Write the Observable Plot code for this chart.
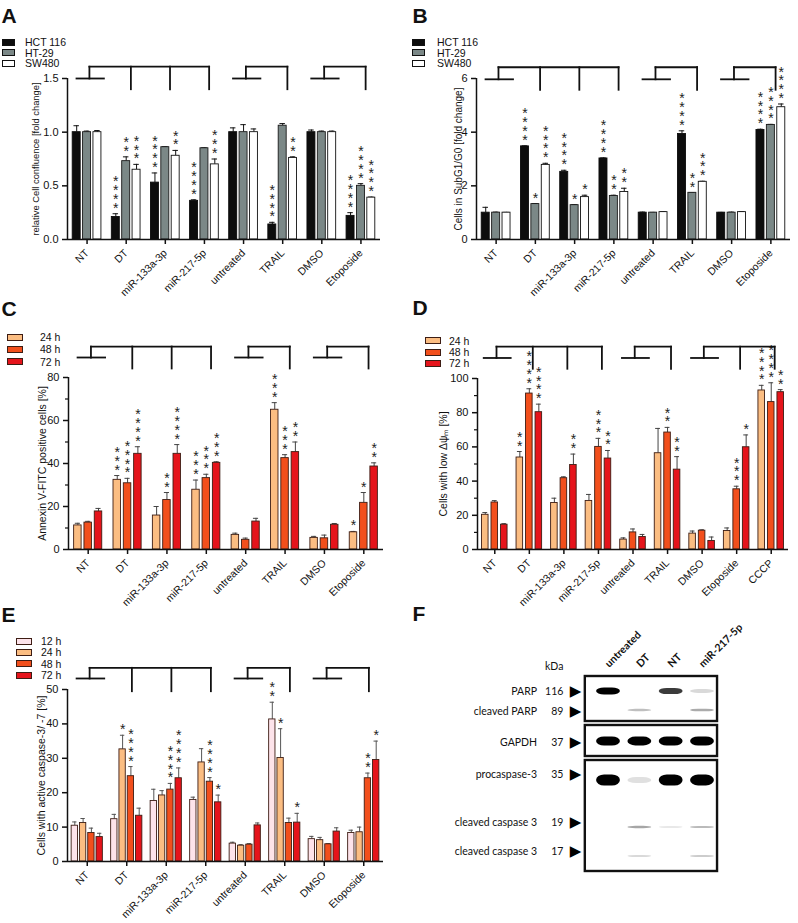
<!DOCTYPE html>
<html>
<head>
<meta charset="utf-8">
<script src="https://cdn.jsdelivr.net/npm/d3@7"></script>
<script src="https://cdn.jsdelivr.net/npm/@observablehq/plot@0.6"></script>
<style>
  html,body{margin:0;padding:0;background:#fff;}
  #fig{position:relative;width:798px;height:923px;overflow:hidden;font-family:"Liberation Sans",Arial,sans-serif;color:#111;}
  #fig svg{position:absolute;overflow:visible;}
  .letter{position:absolute;font-weight:700;font-size:21px;line-height:21px;}
  .lg{position:absolute;left:0;font-size:10.5px;line-height:12px;height:12px;white-space:nowrap;}
  .lg .sw{position:absolute;top:2.5px;height:7px;box-sizing:border-box;border:1px solid #222;}
  .lg .tx{position:absolute;top:0;}
</style>
</head>
<body>
<div id="fig"></div>
<script>
// ---------------- DATA ----------------
const groups8 = ["NT","DT","miR-133a-3p","miR-217-5p","untreated","TRAIL","DMSO","Etoposide"];
const groups9 = ["NT","DT","miR-133a-3p","miR-217-5p","untreated","TRAIL","DMSO","Etoposide","CCCP"];

// Panel A: relative cell confluence
const aHCT116      = [1.00,0.21,0.53,0.36,1.00,0.14,1.00,0.22];
const aHCT116Err   = [0.06,0.03,0.09,0.01,0.04,0.02,0.02,0.03];
const aHCT116Stars = [0,4,4,4,0,4,0,4];
const aHT29        = [1.00,0.73,0.86,0.85,1.00,1.06,1.00,0.50];
const aHT29Err     = [0.01,0.04,0.005,0.005,0.07,0.02,0.01,0.02];
const aHT29Stars   = [0,2,0,0,0,0,0,4];
const aSW480       = [1.00,0.65,0.78,0.70,1.00,0.76,1.00,0.39];
const aSW480Err    = [0.015,0.05,0.05,0.05,0.03,0.01,0.01,0.005];
const aSW480Stars  = [0,3,2,3,0,2,0,4];

// Panel B: cells in SubG1/G0
const bHCT116      = [1.00,3.47,2.52,3.02,1.00,3.93,1.00,4.08];
const bHCT116Err   = [0.20,0.02,0.06,0.02,0.02,0.12,0.01,0.03];
const bHCT116Stars = [0,4,4,4,0,4,0,4];
const bHT29        = [1.00,1.32,1.28,1.62,1.00,1.74,1.00,4.27];
const bHT29Err     = [0.02,0.02,0.02,0.03,0.01,0.01,0.02,0.02];
const bHT29Stars   = [0,1,1,2,0,2,0,4];
const bSW480       = [1.00,2.78,1.58,1.77,1.02,2.15,1.02,4.93];
const bSW480Err    = [0.01,0.06,0.07,0.14,0.02,0.02,0.02,0.12];
const bSW480Stars  = [0,4,1,2,0,3,0,4];

// Panel C: Annexin V-FITC positive cells [%]
const c24 = [11.2,32.4,15.8,27.8,6.8,65.0,5.4,8.0];
const c24Err = [1.0,2.0,4.2,4.5,0.8,3.3,0.7,0.4];
const c24Stars = [0,3,0,3,0,3,0,1];
const c48 = [12.5,30.8,23.0,33.2,4.5,42.5,5.2,21.7];
const c48Err = [0.6,2.3,3.5,1.8,0.8,1.6,1.5,4.8];
const c48Stars = [0,4,2,3,0,3,0,1];
const c72 = [17.7,44.5,44.5,40.3,13.0,45.3,11.5,38.6];
const c72Err = [1.4,3.3,4.3,0.5,1.5,4.7,0.6,1.7];
const c72Stars = [0,4,4,3,0,2,0,2];

// Panel D: cells with low membrane potential [%]
const d24 = [20.3,53.8,27.2,28.4,5.8,56.3,9.3,10.8,93.0];
const d24Err = [1.3,3.5,2.8,3.8,1.0,14.5,1.5,1.8,3.0];
const d24Stars = [0,2,0,0,0,0,0,0,4];
const d48 = [27.5,91.2,41.7,60.0,10.0,68.4,11.0,35.2,86.2];
const d48Err = [1.1,2.8,0.8,5.0,2.0,3.0,0.5,1.8,11.3];
const d48Stars = [0,4,0,3,0,2,0,3,4];
const d72 = [14.5,80.3,49.4,53.2,7.3,46.7,5.0,59.8,92.0];
const d72Err = [0.6,4.7,6.4,4.7,1.5,7.6,2.3,7.2,1.5];
const d72Stars = [0,4,2,2,0,2,0,1,2];

// Panel E: cells with active caspase-3/-7 [%]
const e12 = [10.4,12.3,17.6,17.9,5.2,41.3,6.5,8.3];
const e12Err = [1.1,1.4,3.4,0.8,0.4,5.0,0.8,0.8];
const e12Stars = [0,0,0,0,0,2,0,0];
const e24 = [11.2,32.6,19.2,28.8,4.6,30.1,6.2,8.5];
const e24Err = [1.3,4.1,1.4,4.0,0.3,8.5,0.8,1.5];
const e24Stars = [0,1,0,0,0,1,0,0];
const e48 = [8.3,24.8,20.9,23.2,4.9,11.2,5.0,24.2];
const e48Err = [1.4,2.8,1.8,1.2,0.3,1.4,0.2,1.5];
const e48Stars = [0,4,4,4,0,0,0,2];
const e72 = [7.1,13.3,24.2,17.2,10.5,11.3,8.7,29.5];
const e72Err = [1.1,2.2,3.0,2.1,0.7,2.7,1.1,5.5];
const e72Stars = [0,0,4,1,0,1,0,1];

// comparison brackets (control group index -> compared groups)
const brackets8 = [{ctrl:0,targets:[1,2,3]},{ctrl:4,targets:[5]},{ctrl:6,targets:[7]}];
const brackets9 = [{ctrl:0,targets:[1,2,3]},{ctrl:4,targets:[5]},{ctrl:6,targets:[7,8]}];

// Panel F: western blot
const blotLanes = ["untreated","DT","NT","miR-217-5p"];
const blotProteins = ["PARP","cleaved PARP","GAPDH","procaspase-3","cleaved caspase 3","cleaved caspase 3"];
const blotKDa = [116,89,37,35,19,17];
const blotMarkerPos = [15,35,66,98,146,175];      // migration (arrow)
const blotBandPos = [15,34,65,104,151,180];       // migration (band)
const blotIntensity = [
  [0.95,0.00,0.72,0.10],
  [0.00,0.20,0.00,0.28],
  [1.00,0.95,1.00,1.00],
  [1.00,0.07,1.00,0.97],
  [0.00,0.30,0.04,0.22],
  [0.00,0.10,0.00,0.15]
];
const blotMembranes = [[0,45],[49,80],[84,195]];

// ---------------- STYLE ----------------
const FONT = '"Liberation Sans", Arial, Helvetica, sans-serif';
const cellColors = {"HCT 116":["#0d0d0d","#0d0d0d"],"HT-29":["#7b8887","#1a1a1a"],"SW480":["#ffffff","#111111"]};
const timeColors = {"12 h":"#fde3ea","24 h":"#fbbd82","48 h":"#f24f1c","72 h":"#e5141b"};
const timeStroke = "#3d1d14";

const fig = document.getElementById("fig");

function barPanel(cfg) {
  const n = cfg.groups.length, ns = cfg.series.length;
  const rows = [];
  cfg.series.forEach((s, k) => {
    s.values.forEach((v, i) => {
      rows.push({k, i, x: i + (k - (ns - 1) / 2) * cfg.step, v, e: s.err[i], st: s.stars[i], fill: s.fill, stroke: s.stroke});
    });
  });
  const [yTop, yLow, yDrop] = cfg.bracketY;
  const g = cfg.geom;
  const segs = [];
  for (const br of cfg.brackets) {
    const c = br.ctrl, last = br.targets[br.targets.length - 1];
    segs.push({x1: c + g.hl, x2: c + g.hr, y1: yLow, y2: yLow});
    segs.push({x1: c + g.cv, x2: c + g.cv, y1: yLow, y2: yTop});
    segs.push({x1: c + g.cv, x2: last + g.tv, y1: yTop, y2: yTop});
    for (const t of br.targets) segs.push({x1: t + g.tv, x2: t + g.tv, y1: yTop, y2: yDrop});
  }
  const half = cfg.barW / 2, cap = cfg.cap;
  const top = d => d.v + d.e;
  const yMid = (cfg.yDomain[0] + cfg.yDomain[1]) / 2;
  const svg = Plot.plot({
    width: cfg.width, height: cfg.height,
    marginLeft: cfg.mL, marginRight: cfg.mR, marginTop: cfg.mT, marginBottom: cfg.mB,
    x: {domain: [-0.5, n - 0.5], axis: null},
    y: {domain: cfg.yDomain, axis: null},
    color: {type: "identity"},
    style: {fontFamily: FONT, fontSize: "10.5px", color: "#111", background: "transparent", overflow: "visible"},
    marks: [
      Plot.ruleX(rows, {x: "x", y1: "v", y2: top, stroke: cfg.errColor, strokeWidth: 1}),
      Plot.ruleY(rows, {y: top, x1: d => d.x - cap, x2: d => d.x + cap, stroke: cfg.errColor, strokeWidth: 1}),
      Plot.rect(rows, {x1: d => d.x - half, x2: d => d.x + half, y1: 0, y2: "v", fill: "fill", stroke: "stroke", strokeWidth: 0.9}),
      Plot.text(rows.filter(d => d.st > 0), {x: "x", y: top, text: d => Array(d.st).fill("*").join("\n"),
        lineAnchor: "bottom", lineHeight: 0.63, fontSize: 14, dy: cfg.starDy, fill: "#222"}),
      Plot.link(segs, {x1: "x1", y1: "y1", x2: "x2", y2: "y2", stroke: "#111", strokeWidth: 1.8, strokeLinecap: "square"}),
      Plot.ruleX([-0.5], {y1: cfg.yDomain[0], y2: cfg.yDomain[1], stroke: "#111", strokeWidth: 1.5}),
      Plot.ruleY([0], {x1: -0.5, x2: n - 0.5, stroke: "#111", strokeWidth: 1.5}),
      Plot.axisY({ticks: cfg.yTicks, tickFormat: cfg.yFmt, tickSize: 5, strokeWidth: 1.5, fontSize: 11, label: null}),
      ...(cfg.yMinor.length ? [Plot.axisY({ticks: cfg.yMinor, tickFormat: () => "", tickSize: 3, strokeWidth: 1.2, label: null})] : []),
      Plot.axisX({ticks: d3.range(n), tickFormat: i => cfg.groups[i], tickRotate: -45, tickSize: 5, strokeWidth: 1.5, fontSize: 10.5, label: null}),
      Plot.text([cfg.ylabel], {x: -0.5, y: yMid, text: d => d, rotate: -90, dx: cfg.ylabelDx, fontSize: cfg.ylabelSize, textAnchor: "middle", lineAnchor: "middle"})
    ]
  });
  svg.style.left = cfg.left + "px";
  svg.style.top = cfg.top + "px";
  fig.append(svg);
}

function legend(items, o) {
  items.forEach((it, j) => {
    const row = document.createElement("div");
    row.className = "lg";
    row.style.top = (o.cys[j] - 6) + "px";
    const sw = document.createElement("span");
    sw.className = "sw";
    sw.style.left = o.swX + "px"; sw.style.width = o.swW + "px";
    sw.style.background = it.fill; sw.style.borderColor = it.stroke;
    const tx = document.createElement("span");
    tx.className = "tx"; tx.style.left = o.txtX + "px"; tx.textContent = it.name;
    row.append(sw, tx);
    fig.append(row);
  });
}

function letter(t, x, y) {
  const d = document.createElement("div");
  d.className = "letter"; d.textContent = t;
  d.style.left = x + "px"; d.style.top = y + "px";
  fig.append(d);
}

const cellSeries = (v1, e1, s1, v2, e2, s2, v3, e3, s3) => [
  {name: "HCT 116", values: v1, err: e1, stars: s1, fill: cellColors["HCT 116"][0], stroke: cellColors["HCT 116"][1]},
  {name: "HT-29", values: v2, err: e2, stars: s2, fill: cellColors["HT-29"][0], stroke: cellColors["HT-29"][1]},
  {name: "SW480", values: v3, err: e3, stars: s3, fill: cellColors["SW480"][0], stroke: cellColors["SW480"][1]}
];
const timeSeries = (names, arr) => arr.map((a, k) => ({name: names[k], values: a[0], err: a[1], stars: a[2], fill: timeColors[names[k]], stroke: timeStroke}));

// Panel A
barPanel({left: 0, top: 50, width: 400, height: 255, mL: 67, mR: 20, mT: 28, mB: 66,
  groups: groups8, series: cellSeries(aHCT116, aHCT116Err, aHCT116Stars, aHT29, aHT29Err, aHT29Stars, aSW480, aSW480Err, aSW480Stars),
  yDomain: [0, 1.5], yTicks: [0, 0.5, 1, 1.5], yMinor: [], yFmt: d3.format(".1f"),
  step: 0.265, barW: 0.204, cap: 0.07, errColor: "#111", starDy: -1,
  brackets: brackets8, bracketY: [1.61, 1.5, 1.4], geom: {hl: -0.27, hr: 0.43, cv: 0.06, tv: 0.12},
  ylabel: "relative Cell confluence [fold change]", ylabelDx: -32, ylabelSize: 9.4});

// Panel B
barPanel({left: 400, top: 50, width: 398, height: 255, mL: 76, mR: 8, mT: 28, mB: 66,
  groups: groups8, series: cellSeries(bHCT116, bHCT116Err, bHCT116Stars, bHT29, bHT29Err, bHT29Stars, bSW480, bSW480Err, bSW480Stars),
  yDomain: [0, 6], yTicks: [0, 2, 4, 6], yMinor: [], yFmt: d3.format("d"),
  step: 0.265, barW: 0.204, cap: 0.07, errColor: "#111", starDy: -1,
  brackets: brackets8, bracketY: [6.42, 5.97, 5.58], geom: {hl: -0.27, hr: 0.43, cv: 0.06, tv: 0.12},
  ylabel: "Cells in SubG1/G0 [fold change]", ylabelDx: -18, ylabelSize: 10});

// Panel C
barPanel({left: 0, top: 335, width: 400, height: 290, mL: 68, mR: 17, mT: 42, mB: 76,
  groups: groups8, series: timeSeries(["24 h","48 h","72 h"], [[c24,c24Err,c24Stars],[c48,c48Err,c48Stars],[c72,c72Err,c72Stars]]),
  yDomain: [0, 80], yTicks: [0, 20, 40, 60, 80], yMinor: [10, 30, 50, 70], yFmt: d3.format("d"),
  step: 0.262, barW: 0.19, cap: 0.065, errColor: "#444", starDy: -1,
  brackets: brackets8, bracketY: [94.4, 89.3, 84.2], geom: {hl: -0.27, hr: 0.43, cv: 0.07, tv: 0.12},
  ylabel: "Annexin V-FITC positive cells [%]", ylabelDx: -26, ylabelSize: 10.5});

// Panel D
barPanel({left: 400, top: 335, width: 398, height: 290, mL: 77, mR: 10, mT: 43, mB: 76,
  groups: groups9, series: timeSeries(["24 h","48 h","72 h"], [[d24,d24Err,d24Stars],[d48,d48Err,d48Stars],[d72,d72Err,d72Stars]]),
  yDomain: [0, 100], yTicks: [0, 20, 40, 60, 80, 100], yMinor: [10, 30, 50, 70, 90], yFmt: d3.format("d"),
  step: 0.275, barW: 0.19, cap: 0.07, errColor: "#444", starDy: -1,
  brackets: brackets9, bracketY: [118.6, 112, 105.7], geom: {hl: -0.32, hr: 0.46, cv: 0.05, tv: 0.1},
  ylabel: "Cells with low Δψₘ [%]", ylabelDx: -34, ylabelSize: 10.5});

// Panel E
barPanel({left: 0, top: 650, width: 400, height: 273, mL: 67, mR: 17, mT: 39, mB: 62,
  groups: groups8, series: timeSeries(["12 h","24 h","48 h","72 h"], [[e12,e12Err,e12Stars],[e24,e24Err,e24Stars],[e48,e48Err,e48Stars],[e72,e72Err,e72Stars]]),
  yDomain: [0, 50], yTicks: [0, 10, 20, 30, 40, 50], yMinor: [], yFmt: d3.format("d"),
  step: 0.21, barW: 0.16, cap: 0.055, errColor: "#555", starDy: -1,
  brackets: brackets8, bracketY: [56.3, 53.2, 49.5], geom: {hl: -0.27, hr: 0.43, cv: 0.06, tv: 0.13},
  ylabel: "Cells with active caspase-3/ -7 [%]", ylabelDx: -26, ylabelSize: 10.5});

// Panel F: western blot
(function blotPanel() {
  const rowIdx = d3.range(blotProteins.length);
  const laneIdx = d3.range(blotLanes.length);
  const bands = [];
  blotIntensity.forEach((row, r) => row.forEach((v, i) => { if (v > 0) bands.push({r, i, v}); }));
  const bandH = [7, 4, 9, 11, 3.5, 3.5];
  const hw = 0.38;
  const svg = Plot.plot({
    width: 398, height: 300, margin: 0,
    x: {domain: [0, 3], range: [208, 302], axis: null},
    y: {domain: [0, 200], range: [76, 276], axis: null},
    color: {type: "identity"},
    style: {fontFamily: "Lato, 'Open Sans', sans-serif", fontSize: "10.5px", color: "#111", background: "transparent", overflow: "visible"},
    marks: [
      Plot.rect(bands, {x1: d => d.i - hw, x2: d => d.i + hw,
        y1: d => blotBandPos[d.r] - bandH[d.r] * (0.5 + 0.5 * d.v) / 2,
        y2: d => blotBandPos[d.r] + bandH[d.r] * (0.5 + 0.5 * d.v) / 2,
        fill: "#000", fillOpacity: d => Math.min(1, 0.05 + d.v),
        rx: 8, ariaLabel: "bands"}),
      Plot.rect(blotMembranes, {x1: -0.74, x2: 3.48, y1: d => d[0], y2: d => d[1], fill: "none", stroke: "#111", strokeWidth: 2.4}),
      Plot.text(rowIdx, {x: -2.28, y: i => blotMarkerPos[i], text: i => blotProteins[i], textAnchor: "end", fontSize: 10.5}),
      Plot.text(rowIdx, {x: -1.44, y: i => blotMarkerPos[i], text: i => String(blotKDa[i]), textAnchor: "end", fontSize: 10.5}),
      Plot.text(["kDa"], {x: -1.44, y: -10, text: d => d, textAnchor: "end", fontSize: 10.5}),
      Plot.text(rowIdx, {x: -1.05, y: i => blotMarkerPos[i], text: () => "▶", fontSize: 15, fontFamily: "DejaVu Sans", fill: "#000"}),
      Plot.text(laneIdx, {x: i => i - 0.05, y: -11, text: i => blotLanes[i], rotate: -45, textAnchor: "start", fontWeight: "bold", fontSize: 10.5})
    ]
  });
  const sel = d3.select(svg);
  sel.insert("defs", ":first-child").append("filter").attr("id", "bandBlur")
    .attr("x", "-20%").attr("y", "-100%").attr("width", "140%").attr("height", "300%")
    .append("feGaussianBlur").attr("stdDeviation", 1.3);
  sel.selectAll('g[aria-label="bands"]').attr("filter", "url(#bandBlur)");
  svg.style.left = "400px";
  svg.style.top = "600px";
  fig.append(svg);
})();

// letters
letter("A", 1.5, 5); letter("B", 412.5, 5);
letter("C", 1.5, 298); letter("D", 412.5, 297);
letter("E", 1.5, 604); letter("F", 412.5, 603);

// legends
const cellItems = ["HCT 116","HT-29","SW480"].map(k => ({name: k, fill: cellColors[k][0], stroke: "#111"}));
legend(cellItems, {swX: 2, swW: 13, txtX: 25, cys: [42, 52.5, 63]});
legend(cellItems, {swX: 412, swW: 13, txtX: 437, cys: [42, 52.5, 63]});
const t3 = ["24 h","48 h","72 h"].map(k => ({name: k, fill: timeColors[k], stroke: timeStroke}));
legend(t3, {swX: 7, swW: 16, txtX: 40, cys: [337, 349.3, 361.7]});
legend(t3, {swX: 425, swW: 16, txtX: 449, cys: [340.7, 352, 363.3]});
const t4 = ["12 h","24 h","48 h","72 h"].map(k => ({name: k, fill: timeColors[k], stroke: timeStroke}));
legend(t4, {swX: 16, swW: 16, txtX: 41, cys: [641, 652.3, 663.6, 675]});
</script>
</body>
</html>
